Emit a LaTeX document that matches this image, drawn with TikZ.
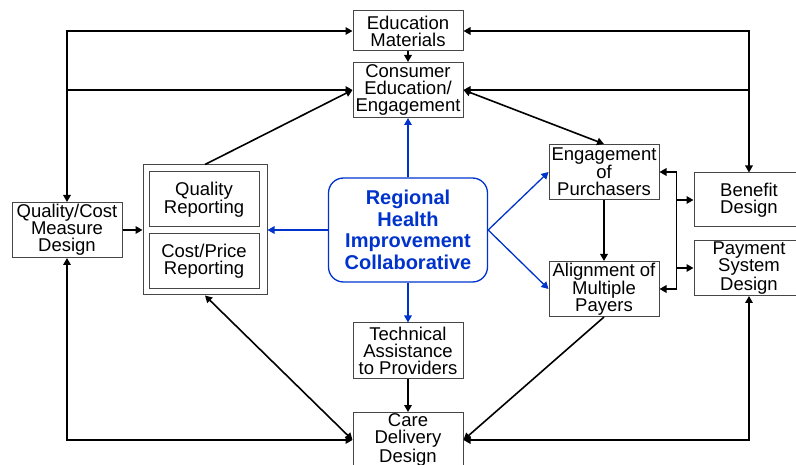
\documentclass[tikz,border=0pt]{standalone}
\usepackage{fontspec}
\setmainfont{Liberation Sans}
\usetikzlibrary{arrows.meta,calc}
\definecolor{rhicblue}{RGB}{0,51,204}
\definecolor{boxgray}{RGB}{70,70,70}
\begin{document}
\begin{tikzpicture}[x=1pt,y=-1pt,
  box/.style={draw=boxgray,line width=1pt,fill=white,minimum width=110pt,minimum height=55pt,
    inner sep=0pt,align=center,font=\fontsize{18.5}{17}\selectfont},
  link/.style={line width=1.6pt,black},
  tip/.style={-{Triangle[length=7pt,width=7.5pt]}},
  bothtips/.style={{Triangle[length=7pt,width=7.5pt]}-{Triangle[length=7pt,width=7.5pt]}},
  bluelink/.style={line width=1.3pt,rhicblue,-{Triangle[length=7pt,width=7.5pt]}}]
\useasboundingbox (0,0) rectangle (796,465);

% boxes
\node[box,minimum height=40pt] (edu) at (408,31) {Education\\Materials};
\node[box] (cons) at (408,90) {Consumer\\Education/\\Engagement};
\node[box] (tech) at (408,350.5) {Technical\\Assistance\\to Providers};
\node[box] (care) at (408,440) {Care\\Delivery\\Design};
\node[box] (qcm) at (67,230) {Quality/Cost\\Measure\\Design};
\node[box,minimum width=124pt,minimum height=130pt] (rep) at (205,230) {};
\node[box] (qrep) at (204,199.5) {Quality\\Reporting};
\node[box] (crep) at (204,261.5) {Cost/Price\\Reporting};
\node[draw=rhicblue,line width=1.3pt,rounded corners=15pt,minimum width=159pt,minimum height=104pt,
  inner sep=0pt,align=center,text=rhicblue,font=\fontsize{20}{21.7}\selectfont\bfseries]
  (rhic) at (408,230) {Regional\\Health\\Improvement\\Collaborative};
\node[box] (eng) at (604,172) {Engagement\\of\\Purchasers};
\node[box] (align) at (604,289) {Alignment of\\Multiple\\Payers};
\node[box,minimum height=54pt] (ben) at (749,200) {Benefit\\Design};
\node[box] (pay) at (749,268) {Payment\\System\\Design};

% black connectors
\draw[link,bothtips] (edu.west) -| (qcm.north);
\draw[link,tip] (qcm.north |- cons.west) -- (cons.west);
\draw[link,bothtips] (edu.east) -| (ben.north);
\draw[link,tip] (ben.north |- cons.east) -- (cons.east);
\draw[link,tip] (edu) -- (cons);
\draw[link,tip] (rep.north) -- (cons.west);
\draw[link,bothtips] (cons.east) -- (eng.north);
\draw[link,tip] (qcm) -- (rep);
\draw[link,bothtips] (qcm.south) |- (care.west);
\draw[link,bothtips] (rep.south) -- (care.west);
\draw[link,tip] (tech) -- (care);
\draw[link,bothtips] (pay.south) |- (care.east);
\draw[link,tip] (align.south) -- (care.east);
\draw[link,tip] (eng) -- (align);
\coordinate (bx) at ([xshift=17pt]eng.east);
\draw[link,bothtips] (eng.east) -- (bx) |- (align.east);
\draw[link,tip] (bx |- ben.west) -- (ben.west);
\draw[link,tip] (bx |- pay.west) -- (pay.west);

% blue connectors
\draw[bluelink] (rhic.north) -- (cons.south);
\draw[bluelink] (rhic.south) -- (tech.north);
\draw[bluelink] (rhic.west) -- (rep.east);
\draw[bluelink] (rhic.east) -- (eng.west);
\draw[bluelink] (rhic.east) -- (align.west);
\end{tikzpicture}
\end{document}
